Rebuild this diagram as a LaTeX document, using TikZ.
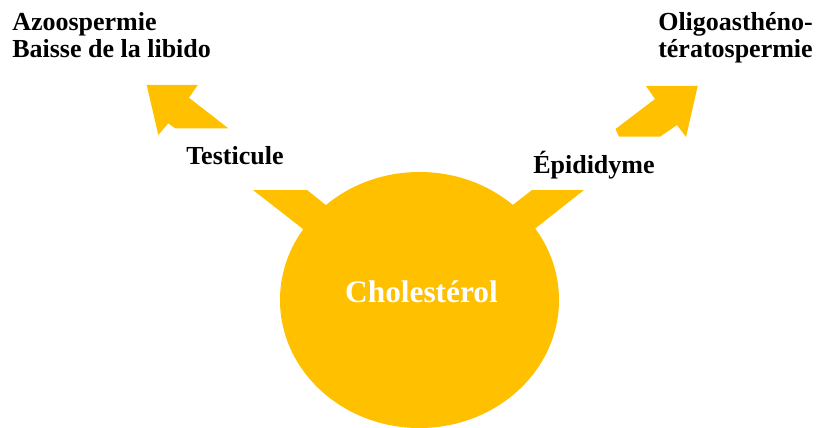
\documentclass[tikz,border=0pt]{standalone}
\usepackage{fontspec}
\setmainfont{Liberation Serif}
\usepackage{tikz}

\begin{document}
\begin{tikzpicture}[x=0.75pt,y=0.75pt,yscale=-1,xscale=1]
\useasboundingbox (0,0) rectangle (818,428);

%Shape: Ellipse [id:dp_chol]
\draw  [draw opacity=0][fill={rgb, 255:red, 255; green, 192; blue, 0 }  ,fill opacity=1 ] (419.5,300) ellipse [x radius=139.5, y radius=128] ;
%Shape: Arrow head left [id:dp_testhead]
\draw  [draw opacity=0][fill={rgb, 255:red, 255; green, 192; blue, 0 }  ,fill opacity=1 ] (146.7,85) -- (197.7,85) -- (189,97.7) -- (228.3,128.3) -- (175,128.3) -- (168.3,123.3) -- (158.3,135) -- cycle ;
%Shape: Arrow tail left [id:dp_testtail]
\draw  [draw opacity=0][fill={rgb, 255:red, 255; green, 192; blue, 0 }  ,fill opacity=1 ] (253,190) -- (307,190) -- (351,225) -- (330,250) -- cycle ;
%Shape: Arrow head right [id:dp_epihead]
\draw  [draw opacity=0][fill={rgb, 255:red, 255; green, 192; blue, 0 }  ,fill opacity=1 ] (697.7,86) -- (646,86) -- (655,99) -- (615.5,129) -- (619,136.7) -- (660,136.7) -- (677,125) -- (686,137) -- cycle ;
%Shape: Arrow tail right [id:dp_epitail]
\draw  [draw opacity=0][fill={rgb, 255:red, 255; green, 192; blue, 0 }  ,fill opacity=1 ] (532,190) -- (584,190) -- (508,250) -- (487,225) -- cycle ;

% Text Node
\draw (421.5,302.7) node [anchor=base][inner sep=0.75pt]  [color=white, font=\fontsize{23.5}{28}\selectfont\bfseries]  (chol) {Cholestérol};
% Text Node
\draw (185,165) node [anchor=base west][inner sep=0.75pt]  [font=\fontsize{19.5}{21}\selectfont\bfseries]  (testicule) {Testicule};
% Text Node
\draw (532,173) node [anchor=base west][inner sep=0.75pt]  [font=\fontsize{19.5}{21}\selectfont\bfseries]  (epididyme) {Épididyme};
% Text Node
\draw (12,12) node [anchor=north west][inner sep=0pt]  [font=\fontsize{19.5}{20.5}\selectfont\bfseries, align=left]  (azoo) {Azoospermie\\Baisse de la libido};
% Text Node
\draw (658,12) node [anchor=north west][inner sep=0pt]  [font=\fontsize{19.5}{20.5}\selectfont\bfseries, align=left]  (oligo) {Oligoasthéno-\\tératospermie};

\end{tikzpicture}
\end{document}
